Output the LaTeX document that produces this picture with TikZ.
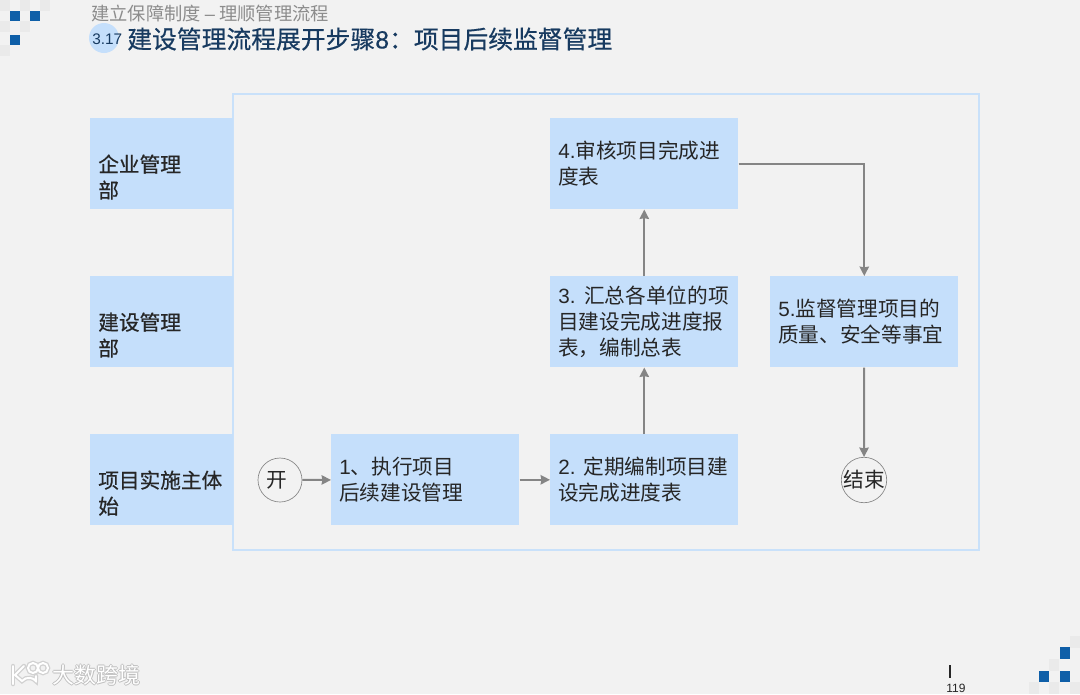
\documentclass[tikz,border=0pt]{standalone}
\usepackage{fontspec}
\setmainfont{Noto Sans CJK SC}
\newfontfamily\midf[FakeBold=0.5]{Noto Sans CJK SC}
\newfontfamily\lat{Liberation Sans}
\newfontfamily\latm[FakeBold=0.4]{Liberation Sans}
\definecolor{bgc}{HTML}{F2F2F2}
\definecolor{boxc}{HTML}{C5DFFB}
\definecolor{framec}{HTML}{C9E1FA}
\definecolor{arrowc}{HTML}{858585}
\definecolor{inkc}{HTML}{262626}
\definecolor{titlec}{HTML}{173A60}
\definecolor{subc}{HTML}{8C8C8C}
\definecolor{sqc}{HTML}{0F5FA8}
\definecolor{sqg}{HTML}{EAEAEA}
\usetikzlibrary{arrows.meta}
\tikzset{
  x=0.75pt,y=-0.75pt,
  flowbox/.style={fill=boxc,draw=none,inner xsep=6pt,inner ysep=0pt,anchor=north west,align=left,
    font=\fontsize{15.5pt}{19.5pt}\selectfont,text=inkc},
  widebox/.style={flowbox,minimum width=141pt,text width=129pt,minimum height=68.25pt},
  lanebox/.style={flowbox,minimum width=107.25pt,text width=95.25pt,minimum height=68.25pt,
    font=\midf\fontsize{15.5pt}{19.5pt}\selectfont},
  startend/.style={circle,draw=arrowc,fill=bgc,line width=0.5pt,minimum size=33pt,inner sep=0pt,
    font=\fontsize{15.5pt}{19.5pt}\selectfont,text=inkc},
  flow/.style={draw=arrowc,line width=1.5pt,-{Stealth[length=7pt,width=7pt,inset=0.5pt]}},
  sq/.style={fill=sqc,draw=none},
  gsq/.style={fill=sqg,draw=none},
}
\begin{document}
\begin{tikzpicture}
\useasboundingbox (0,0) rectangle (1080,694);
\fill[bgc] (0,0) rectangle (1080,694);
% corner decoration, top left
\foreach \a/\b in {0/0,20/0,40/0,0/21,20/21,0/45}{\fill[gsq] (\a,\b) rectangle ++(10,11);}
\fill[sq] (10,11) rectangle (20,21);
\fill[sq] (30,11) rectangle (40,21);
\fill[sq] (10,35) rectangle (20,45);
% corner decoration, bottom right
\foreach \a/\b in {1070/636,1049/659,1029/682,1049/682,1070/682}{\fill[gsq] (\a,\b) rectangle ++(10,12);}
\fill[sq] (1060,647) rectangle (1070,659);
\fill[sq] (1039,671) rectangle (1049,682);
\fill[sq] (1060,671) rectangle (1070,682);
% heading
\fill[boxc] (104,38) circle (15);
\node[anchor=west,inner sep=0pt,text=subc,font=\fontsize{13.7pt}{15pt}\selectfont] (sub) at (91,14) {建立保障制度 {\lat –} 理顺管理流程};
\node[anchor=west,inner sep=0pt,text=titlec,font=\lat\fontsize{11.5pt}{13pt}\selectfont] (num) at (92,39) {3.17};
\node[anchor=west,inner sep=0pt,text=titlec,font=\midf\fontsize{18.6pt}{22pt}\selectfont] (title) at (127,39) {建设管理流程展开步骤{\latm 8}：项目后续监督管理};
% frame
\draw[framec,line width=2.2pt] (233,94) rectangle (979,550);
% lanes
\node[lanebox] (l1) at (90,118) {\strut\\企业管理\\部};
\node[lanebox] (l2) at (90,276) {\strut\\建设管理\\部};
\node[lanebox] (l3) at (90,434) {\strut\\项目实施主体\\始};
% steps
\node[widebox] (s1) at (331,434) {\mbox{{\lat 1}、执行项目}\\\mbox{后续建设管理}};
\node[widebox] (s2) at (550,434) {\mbox{{\lat 2.}\kern6.1pt 定期编制项目建}\\\mbox{设完成进度表}};
\node[widebox] (s3) at (550,276) {\mbox{{\lat 3.}\kern6.5pt 汇总各单位的项}\\\mbox{目建设完成进度报}\\\mbox{表，编制总表}};
\node[widebox] (s4) at (550,118) {\mbox{{\lat 4.}审核项目完成进}\\\mbox{度表}};
\node[widebox] (s5) at (770,276) {\mbox{{\lat 5.}监督管理项目的}\\\mbox{质量、安全等事宜}};
\node[startend] (st) at (280,480) {\mbox{开\kern5pt}};
\node[startend] (en) at (864,480) {结束};
% connectors
\draw[flow] (st) -- (s1);
\draw[flow] (s1) -- (s2);
\draw[flow] (s2) -- (s3);
\draw[flow] (s3) -- (s4);
\draw[flow] (s4.east) -| (s5.north);
\draw[flow] (s5) -- (en);
% page number
\coordinate (pa) at (950,665);
\coordinate (pb) at (950,678);
\draw[inkc,line width=0.9pt] (pa) -- (pb);
\node[anchor=center,inner sep=0pt,text=inkc,font=\lat\fontsize{9pt}{10pt}\selectfont] (pg) at (956,688) {119};
% watermark
\begin{scope}[line width=3.4pt,draw=black!18,fill=none,line cap=round]
\draw (13,666) -- (13,684);
\draw (24,666) -- (15,675) -- (22,681) arc[start angle=220,end angle=320,radius=9] -- (36,676);
\draw (33,668) circle (5);
\draw (43,668) circle (5);
\end{scope}
\begin{scope}[line width=1.5pt,draw=white,fill=none,line cap=round]
\draw (13,666) -- (13,684);
\draw (24,666) -- (15,675) -- (22,681) arc[start angle=220,end angle=320,radius=9] -- (36,676);
\draw (33,668) circle (5);
\draw (43,668) circle (5);
\end{scope}
\foreach \dx/\dy in {-1/0,1/0,0/-1,0/1}{
  \node[anchor=west,inner sep=0pt,text=black!25,font=\fontsize{16.5pt}{18pt}\selectfont] at (52+\dx,675+\dy) {大数跨境};}
\node[anchor=west,inner sep=0pt,text=white,font=\fontsize{16.5pt}{18pt}\selectfont] (wm) at (52,675) {大数跨境};
\end{tikzpicture}
\end{document}
